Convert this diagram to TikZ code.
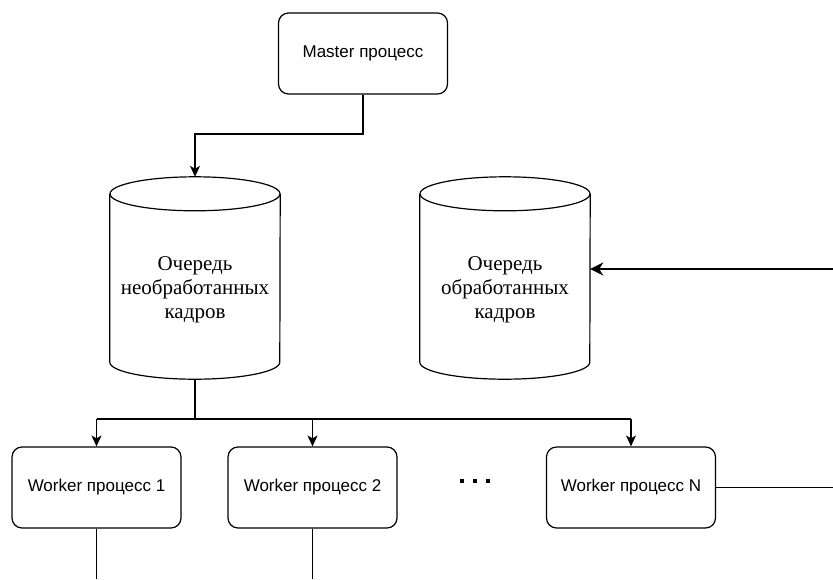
\documentclass[tikz,border=0pt]{standalone}
\usepackage{fontspec}
\setmainfont{Liberation Serif}
\newfontfamily\sansf{Liberation Sans}
\usetikzlibrary{arrows.meta}
\begin{document}
\begin{tikzpicture}[x=1pt,y=-1pt,
  proc/.style={draw, line width=1.2pt, rounded corners=10pt, minimum width=169pt, minimum height=81pt, font=\sansf\fontsize{17}{20}\selectfont, inner sep=0pt},
  cylnode/.style={minimum width=170pt, minimum height=202pt, inner sep=0pt},
  cyltext/.style={align=center, inner sep=0pt, font=\fontsize{21}{24}\selectfont},
  ln/.style={line width=1.2pt},
  arr/.style={ln, -{Stealth[length=11pt,width=10pt,inset=3pt]}},
  arrthick/.style={line width=2.4pt, -{Stealth[length=13pt,width=13pt,inset=4pt]}}
]
\useasboundingbox (0,0) rectangle (833,579);

% nodes
\node[proc] (m) at (363,53.5) {Master процесс};
\node[cylnode] (q1) at (195,278) {};
\node[cylnode] (q2) at (505,278) {};
\node[cyltext] (q1t) at (195,290) {Очередь\\необработанных\\кадров};
\node[cyltext] (q2t) at (505,290) {Очередь\\обработанных\\кадров};
\node[proc] (w1) at (96.5,487.5) {Worker процесс 1};
\node[proc] (w2) at (312.5,487.5) {Worker процесс 2};
\node[proc] (wn) at (631,487.5) {Worker процесс N};

% cylinders
\foreach \c in {q1,q2}{
  \draw[ln] ([yshift=-17pt]\c.north) ellipse [x radius=85pt, y radius=17pt];
  \draw[ln] ([yshift=-17pt]\c.north west) -- ([yshift=17pt]\c.south west)
     arc [start angle=180, end angle=360, x radius=85pt, y radius=17pt]
     -- ([yshift=-17pt]\c.north east);
}

% coordinates
\coordinate (j1) at (195,134);
\coordinate (j2) at (195,419);
\coordinate (e1) at (833,269);
\coordinate (e2) at (833,487.5);
\coordinate (b1) at (96.5,579);
\coordinate (b2) at (312.5,579);

% connectors
\draw[arr] (m.south) |- (j1) -- (q1.north);
\draw[ln] (q1.south) -- (j2);
\draw[ln] (w1.north |- j2) -- (wn.north |- j2);
\draw[arr] (w1.north |- j2) -- (w1.north);
\draw[arr] (j2 -| w2.north) -- (w2.north);
\draw[arr] (j2 -| wn.north) -- (wn.north);
\draw[arrthick] (e1) -- (e1 -| q2.east);
\draw[ln] (wn.east) -- (e2);
\draw[ln] (w1.south) -- (b1);
\draw[ln] (w2.south) -- (b2);

% dots
\foreach \x in {462,475,488}{
  \fill (\x-2,479) rectangle (\x+2,483);
}
\end{tikzpicture}
\end{document}
